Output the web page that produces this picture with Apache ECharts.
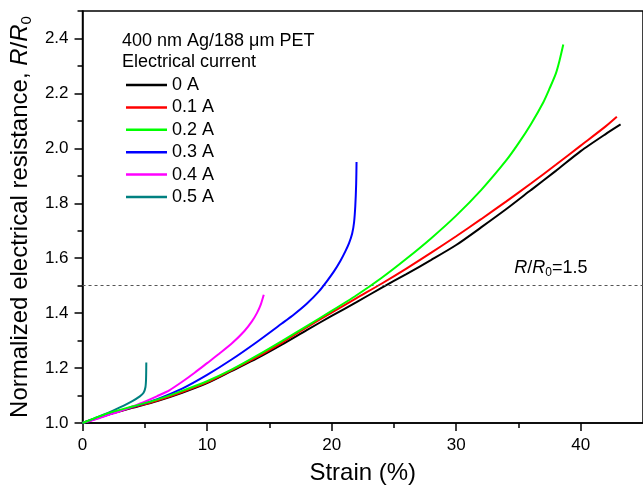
<!DOCTYPE html>
<html>
<head>
<meta charset="utf-8">
<script src="https://cdn.jsdelivr.net/npm/echarts@6/dist/echarts.min.js"></script>
<style>html,body{margin:0;padding:0;background:#fff}#c{width:643px;height:490px}</style>
</head>
<body>
<div id="c"></div>
<script>
// ---- data ----
const seriesNames = ['0 A', '0.1 A', '0.2 A', '0.3 A', '0.4 A', '0.5 A'];
const strain0A = [0, 2, 4, 6, 8, 10, 12, 14, 16, 18, 20, 22, 24, 26, 28, 30, 32, 34, 36, 38, 40, 42, 43.2];
const r0A = [1.0, 1.03, 1.055, 1.08, 1.11, 1.145, 1.19, 1.235, 1.285, 1.338, 1.39, 1.44, 1.492, 1.542, 1.594, 1.648, 1.712, 1.778, 1.848, 1.918, 1.99, 2.052, 2.087];
const strain01A = [0, 2, 4, 6, 8, 10, 12, 14, 16, 18, 20, 22, 24, 26, 28, 30, 32, 34, 36, 38, 40, 42, 42.9];
const r01A = [1.0, 1.03, 1.056, 1.082, 1.113, 1.148, 1.193, 1.24, 1.292, 1.348, 1.402, 1.455, 1.507, 1.562, 1.62, 1.68, 1.742, 1.806, 1.872, 1.94, 2.01, 2.08, 2.115];
const strain02A = [0, 2, 4, 6, 8, 10, 12, 14, 16, 18, 20, 22, 24, 26, 28, 30, 32, 34, 35, 36, 37, 37.5, 38, 38.3, 38.6];
const r02A = [1.0, 1.035, 1.06, 1.085, 1.117, 1.152, 1.195, 1.245, 1.298, 1.353, 1.408, 1.465, 1.528, 1.598, 1.673, 1.755, 1.848, 1.955, 2.018, 2.088, 2.168, 2.218, 2.272, 2.32, 2.378];
const strain03A = [0, 2, 4, 6, 8, 10, 12, 14, 16, 17, 18, 19, 19.6, 20.2, 20.7, 21.1, 21.4, 21.65, 21.8, 21.9, 21.97, 22.0];
const r03A = [1.0, 1.03, 1.058, 1.087, 1.125, 1.175, 1.232, 1.295, 1.362, 1.396, 1.434, 1.48, 1.515, 1.553, 1.59, 1.625, 1.655, 1.69, 1.73, 1.79, 1.87, 1.95];
const strain04A = [0, 1, 2, 3, 4, 5, 6, 7, 8, 9, 10, 11, 12, 13, 13.6, 14, 14.3, 14.55];
const r04A = [1.0, 1.013, 1.028, 1.043, 1.06, 1.078, 1.098, 1.12, 1.15, 1.183, 1.218, 1.253, 1.29, 1.335, 1.37, 1.4, 1.43, 1.467];
const strain05A = [0, 1, 2, 3, 4, 4.6, 4.9, 5.05, 5.1, 5.12];
const r05A = [1.0, 1.018, 1.036, 1.057, 1.08, 1.097, 1.11, 1.13, 1.16, 1.22];
const xMajorTicks = [0, 10, 20, 30, 40];
const xMinorTicks = [5, 15, 25, 35];
const yMajorTicks = [1.0, 1.2, 1.4, 1.6, 1.8, 2.0, 2.2, 2.4];
const yMinorTicks = [1.1, 1.3, 1.5, 1.7, 1.9, 2.1, 2.3, 2.5];
const thresholdValue = 1.5;

const colors = ['#000000', '#ff0000', '#00ff00', '#0000ff', '#ff00ff', '#008080'];
const FONT = '"Liberation Sans", Arial, sans-serif';

function pairs(xs, ys) { return xs.map((x, i) => [x, ys[i]]); }
const allData = [pairs(strain0A, r0A), pairs(strain01A, r01A), pairs(strain02A, r02A),
                 pairs(strain03A, r03A), pairs(strain04A, r04A), pairs(strain05A, r05A)];

const drawOrder = [0, 1, 3, 4, 5, 2];
const series = drawOrder.map(idx => ({
  name: seriesNames[idx],
  type: 'line',
  data: allData[idx],
  smooth: 0.25,
  showSymbol: false,
  symbol: 'none',
  lineStyle: { color: colors[idx], width: 2 },
  itemStyle: { color: colors[idx] },
  z: 3 + drawOrder.indexOf(idx)
}));
series[0].markLine = {
  silent: true, symbol: 'none',
  lineStyle: { type: [3, 3], color: '#555', width: 1 },
  label: { show: false },
  data: [{ yAxis: thresholdValue }]
};
series[0].markPoint = {
  silent: true, symbol: 'rect', symbolSize: 0,
  data: [{ coord: [37.6, thresholdValue] }],
  label: {
    show: true, position: 'top', distance: 7,
    formatter: '{i|R}/{i|R}{sub|0}=1.5',
    color: '#000', fontSize: 18, fontFamily: FONT,
    rich: {
      i: { fontStyle: 'italic', fontSize: 18, fontFamily: FONT, color: '#000' },
      sub: { fontSize: 12, fontFamily: FONT, color: '#000', padding: [10, 0, 0, 0] }
    }
  }
};

const chart = echarts.init(document.getElementById('c'), null, { renderer: 'canvas' });
chart.setOption({
  animation: false,
  backgroundColor: '#fff',
  title: {
    text: '400 nm Ag/188 \u03bcm PET\nElectrical current',
    left: 122, top: 31, padding: 0,
    textStyle: { fontSize: 18, fontWeight: 'normal', lineHeight: 21, color: '#000', fontFamily: FONT }
  },
  legend: {
    data: seriesNames,
    orient: 'vertical', left: 126, top: 76, padding: 0,
    icon: 'rect', itemWidth: 41, itemHeight: 2.5, itemGap: 4.4, itemStyle: { borderWidth: 0 },
    textStyle: { fontSize: 18, lineHeight: 18, color: '#000', fontFamily: FONT }
  },
  grid: { left: 82, top: 11, bottom: 62, right: -7, show: true, borderColor: '#000', borderWidth: 1.5, backgroundColor: 'transparent' },
  xAxis: [{
    type: 'value', min: 0, max: 45, interval: 10, position: 'bottom',
    name: 'Strain (%)', nameLocation: 'middle', nameGap: 38,
    nameTextStyle: { fontSize: 24, color: '#000', fontFamily: FONT },
    axisLine: { show: true, onZero: false, lineStyle: { color: '#000', width: 1.5 } },
    axisTick: { show: true, length: 8, customValues: xMajorTicks, lineStyle: { color: '#000', width: 1.5 } },
    axisLabel: { customValues: xMajorTicks, fontSize: 17, color: '#000', margin: 14, fontFamily: FONT },
    splitLine: { show: false }
  }, {
    type: 'value', min: 0, max: 45, position: 'bottom',
    axisLine: { show: false },
    axisTick: { show: true, length: 5, customValues: xMinorTicks, lineStyle: { color: '#000', width: 1.5 } },
    axisLabel: { show: false },
    splitLine: { show: false }
  }],
  yAxis: [{
    type: 'value', min: 1.0, max: 2.5, interval: 0.2, position: 'left',
    name: 'Normalized electrical resistance, {i|R}/{i|R}{sub|0}',
    nameLocation: 'middle', nameGap: 42,
    nameTextStyle: {
      fontSize: 24, color: '#000', fontFamily: FONT,
      rich: {
        i: { fontStyle: 'italic', fontSize: 24, fontFamily: FONT, color: '#000' },
        sub: { fontSize: 15, fontFamily: FONT, color: '#000', padding: [13, 0, 0, 0] }
      }
    },
    axisLine: { show: true, onZero: false, lineStyle: { color: '#000', width: 1.5 } },
    axisTick: { show: true, length: 8, customValues: yMajorTicks, lineStyle: { color: '#000', width: 1.5 } },
    axisLabel: { customValues: yMajorTicks, fontSize: 17, color: '#000', margin: 14, fontFamily: FONT, formatter: v => v.toFixed(1) },
    splitLine: { show: false }
  }, {
    type: 'value', min: 1.0, max: 2.5, position: 'left',
    axisLine: { show: false },
    axisTick: { show: true, length: 5, customValues: yMinorTicks, lineStyle: { color: '#000', width: 1.5 } },
    axisLabel: { show: false },
    splitLine: { show: false }
  }],
  series: series
});
</script>
</body>
</html>
